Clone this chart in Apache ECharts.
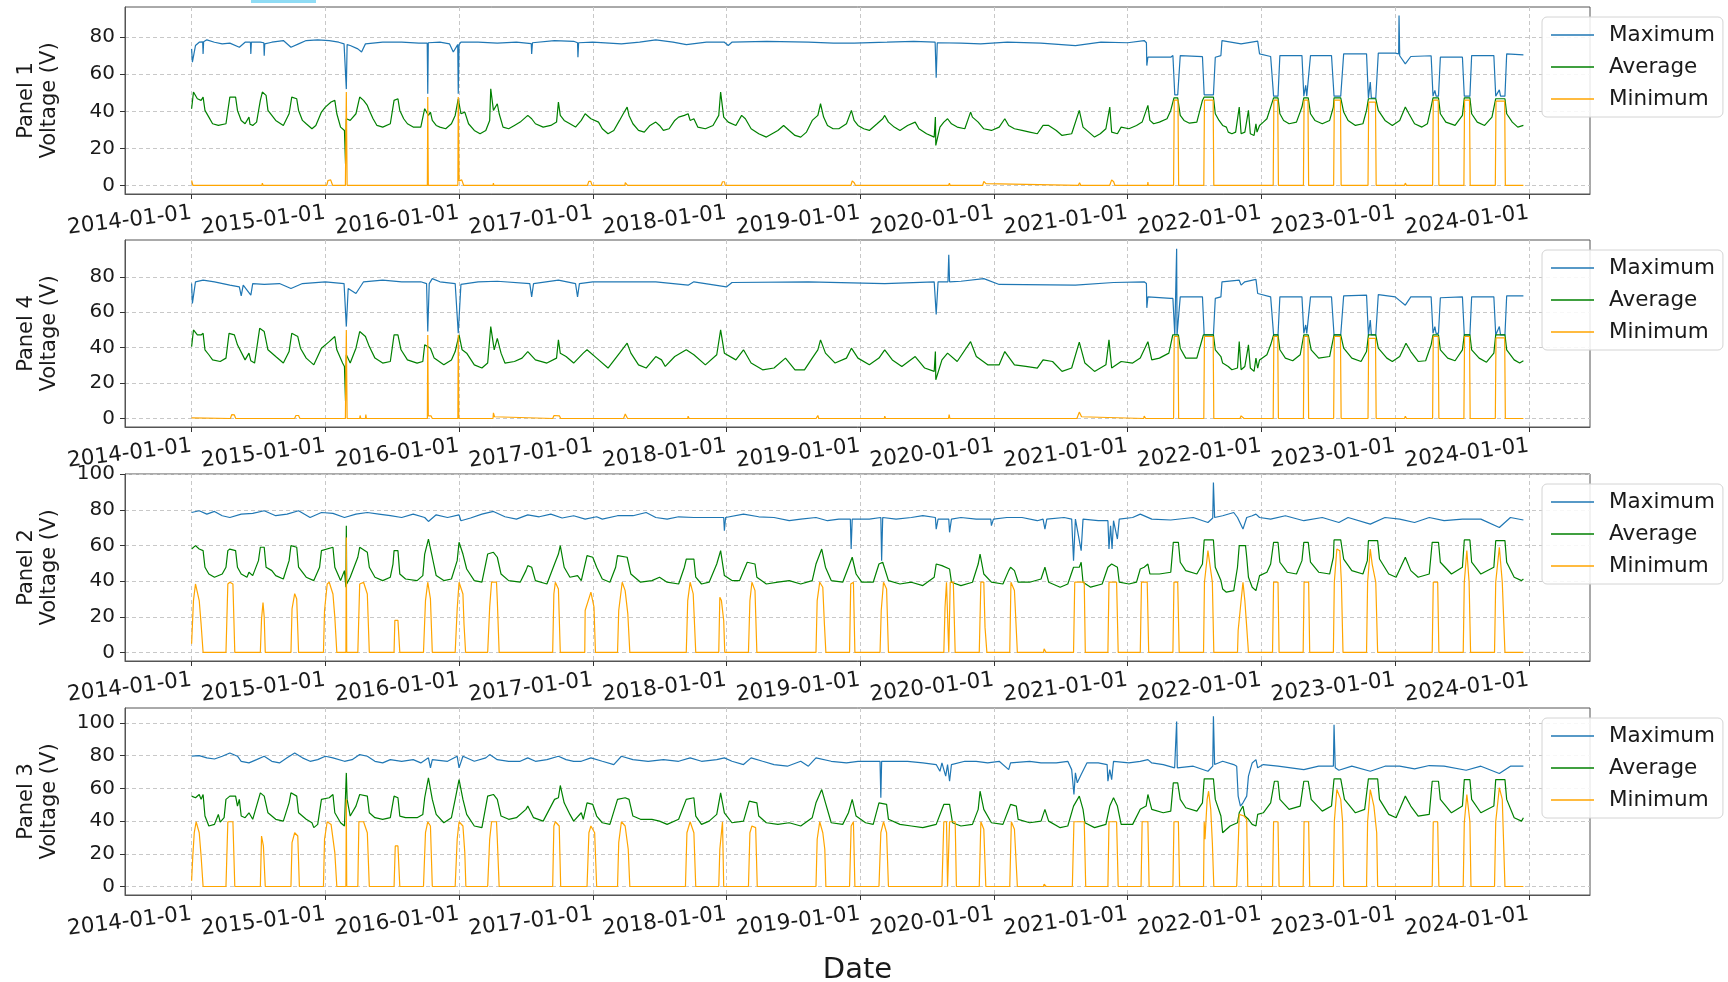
<!DOCTYPE html>
<html>
<head>
<meta charset="utf-8">
<script src="https://cdn.jsdelivr.net/npm/echarts@6/dist/echarts.min.js"></script>
<style>
  html, body { margin: 0; padding: 0; background: #fff; }
  #main { width: 1728px; height: 982px; }
</style>
</head>
<body>
<div id="main"></div>
<script>
// x values are decimal years (2014.5 = middle of 2014)
var yearTicks = [2014, 2015, 2016, 2017, 2018, 2019, 2020, 2021, 2022, 2023, 2024];
var seriesNames = ['Maximum', 'Average', 'Minimum'];
var panelNames = ['Panel 1', 'Panel 4', 'Panel 2', 'Panel 3'];
var yTicks = [[0, 20, 40, 60, 80], [0, 20, 40, 60, 80], [0, 20, 40, 60, 80, 100], [0, 20, 40, 60, 80, 100]];
var yRanges = [[-4.6, 96.3], [-4.8, 100.8], [-4.8, 100.1], [-5.2, 109.2]];

// ---- Panel 1 ----
var panel1Max = [[2014.000,73.7],[2014.006,66.5],[2014.029,75.5],[2014.057,77.3],[2014.083,77.5],[2014.086,71],[2014.090,77.6],[2014.114,78.6],[2014.171,77.3],[2014.229,76.4],[2014.286,76.8],[2014.357,74.6],[2014.400,77.3],[2014.440,77.3],[2014.443,71],[2014.447,77.3],[2014.514,77.3],[2014.540,77],[2014.543,70],[2014.547,76.4],[2014.600,77.3],[2014.686,78.2],[2014.743,74.6],[2014.800,76.4],[2014.857,78.2],[2014.943,78.6],[2015.029,78.2],[2015.100,77.3],[2015.140,76.4],[2015.157,52],[2015.163,76],[2015.186,75.5],[2015.243,73.7],[2015.271,72],[2015.300,76.4],[2015.429,77.3],[2015.571,77.3],[2015.700,76.8],[2015.762,76.8],[2015.766,49.5],[2015.770,77],[2015.857,77.3],[2015.929,76.4],[2015.957,72],[2015.990,76],[2015.994,49.5],[2016.000,76],[2016.014,77.3],[2016.143,77.3],[2016.286,76.8],[2016.429,77.3],[2016.540,76.5],[2016.543,71],[2016.549,77],[2016.714,78.2],[2016.857,77.8],[2016.886,77],[2016.889,69.2],[2016.894,77],[2017.000,77.3],
  [2017.214,76.4],[2017.350,77.3],[2017.471,78.6],[2017.600,77.3],[2017.700,76],[2017.850,77.3],[2017.984,77.3],[2018.013,75.5],[2018.040,77.3],[2018.300,77.8],[2018.612,77.3],[2018.800,76.8],[2018.954,76.8],[2019.200,77.3],[2019.400,77.8],[2019.560,77.3],[2019.568,58.1],[2019.576,77],[2019.753,76.8],[2019.900,76.4],[2020.100,77.3],[2020.350,76.8],[2020.609,75.5],[2020.800,77.3],[2021.000,77],[2021.123,78.2],[2021.140,77],[2021.143,64.7],[2021.151,69.2],[2021.322,69.2],
  [2021.338,70.1],[2021.352,48.9],[2021.374,48.9],[2021.393,70.1],[2021.559,69.5],[2021.572,48.9],[2021.641,48.9],[2021.655,69.2],[2021.697,70.1],[2021.705,78.2],[2021.848,76.4],[2021.972,77.9],[2021.986,71],[2022.069,69.6],[2022.091,48.2],[2022.124,48.2],[2022.138,70.1],[2022.303,70.1],[2022.317,48.2],[2022.331,54],[2022.339,48.2],[2022.350,48.2],[2022.367,70.1],[2022.524,70.1],[2022.543,48.2],[2022.593,48.2],[2022.615,71],[2022.786,71],[2022.800,47.1],[2022.814,55.8],[2022.822,47.1],[2022.855,47.1],[2022.874,71.4],[2023.000,71.4],[2023.026,71],[2023.029,91.7],[2023.034,70],[2023.076,65.6],[2023.117,69.6],[2023.269,70],[2023.283,48.2],[2023.297,51.3],[2023.306,48.2],[2023.324,48.2],[2023.338,69.2],[2023.503,69.2],[2023.517,48.2],[2023.559,48.2],[2023.572,70.1],[2023.738,70.1],[2023.752,48.2],[2023.779,51.6],[2023.788,48.2],[2023.821,48.2],[2023.834,71],[2023.959,70.5]];
var panel1Avg = [[2014.000,41.4],[2014.014,50.4],[2014.043,46.8],[2014.071,45.9],[2014.086,47.7],[2014.100,40.5],[2014.129,36.9],[2014.157,33.3],[2014.200,32.4],[2014.257,33.3],[2014.286,47.7],[2014.329,47.7],[2014.343,40.5],[2014.371,35.1],[2014.400,33.3],[2014.429,36.9],[2014.437,33],[2014.457,32.4],[2014.486,34.2],[2014.514,45.9],[2014.529,50.4],[2014.557,48.6],[2014.571,40.5],[2014.600,37.8],[2014.629,35.1],[2014.686,32.4],[2014.729,38.7],[2014.749,47.7],[2014.786,46.8],[2014.800,40.5],[2014.829,35.1],[2014.857,33.3],[2014.900,30.6],[2014.929,32.4],[2014.971,39.6],[2015.000,42.3],[2015.043,45],[2015.071,45.9],[2015.086,38.7],[2015.114,31.5],[2015.143,29.7],[2015.151,11.7],[2015.157,36],[2015.186,35.1],[2015.229,38.7],[2015.257,47.7],[2015.286,45.9],[2015.314,43.2],[2015.329,40.5],[2015.357,36],[2015.386,32.4],[2015.429,31.5],[2015.486,33.3],[2015.514,45.9],[2015.543,46.8],[2015.557,40.5],[2015.586,36],[2015.614,33.3],[2015.657,31.5],[2015.714,31.5],[2015.743,41.4],[2015.771,37.8],[2015.786,39.6],[2015.800,35.1],[2015.829,32.4],[2015.857,31.5],[2015.900,30.6],[2015.943,33.3],[2015.971,37.8],[2015.994,46.8],[2016.014,38.7],[2016.043,39.6],[2016.071,33.3],[2016.114,29.7],[2016.157,27.9],[2016.200,29.7],[2016.229,35.1],[2016.237,52.2],[2016.257,40.5],[2016.286,44.1],[2016.300,38.7],[2016.329,31.5],[2016.371,30.6],[2016.414,32.4],[2016.457,34.2],[2016.514,37.8],[2016.543,36],[2016.571,33.3],[2016.629,31.5],[2016.686,32.4],[2016.729,34.2],[2016.743,45],[2016.757,37.8],[2016.786,35.1],[2016.829,33.3],[2016.871,31.5],[2016.914,35.1],[2016.943,38.7],[2016.986,36],
  [2017.043,34.2],[2017.071,30.6],[2017.114,27.9],[2017.157,29.7],[2017.200,35.1],[2017.228,38.7],[2017.257,42.3],[2017.271,37.8],[2017.300,33.3],[2017.342,29.7],[2017.385,28.8],[2017.428,32.4],[2017.471,34.2],[2017.499,32.4],[2017.528,29.7],[2017.571,30.6],[2017.613,35.1],[2017.642,36.9],[2017.685,37.8],[2017.713,38.7],[2017.728,35.1],[2017.756,36],[2017.785,31.5],[2017.842,30.6],[2017.899,32.4],[2017.942,37.8],[2017.956,50.4],[2017.979,36.9],[2018.013,34.2],[2018.070,32.4],[2018.113,37.8],[2018.141,36],[2018.184,30.6],[2018.241,27.9],[2018.298,26.1],[2018.341,27.9],[2018.384,29.7],[2018.427,32.4],[2018.469,29.7],[2018.512,27],[2018.555,26.1],[2018.598,28.8],[2018.641,35.1],[2018.683,37.8],[2018.703,44.1],[2018.726,36.9],[2018.755,32.4],[2018.797,30.6],[2018.840,30.6],[2018.897,33.3],[2018.934,40.5],[2018.954,35.1],[2018.983,32.4],[2019.026,30.6],[2019.068,29.7],[2019.126,33.3],[2019.168,36],[2019.183,37.8],[2019.211,34.2],[2019.254,31.5],[2019.297,29.7],[2019.354,32.4],[2019.411,34.2],[2019.439,30.6],[2019.496,27.9],[2019.553,26.1],[2019.562,36.9],[2019.565,21.6],[2019.596,31.5],[2019.625,34.2],[2019.653,36],[2019.682,33.3],[2019.725,31.5],[2019.782,30.6],[2019.825,39.6],[2019.839,36.9],[2019.882,34.2],[2019.924,30.6],[2019.981,29.7],[2020.039,31.5],[2020.081,36],[2020.110,32.4],[2020.153,30.6],[2020.210,29.7],[2020.267,28.8],[2020.324,27.9],[2020.367,32.4],[2020.409,32.4],[2020.466,29.7],[2020.509,27],[2020.581,27.9],[2020.638,40.5],[2020.666,31.5],[2020.709,28.8],[2020.752,26.1],[2020.795,27.9],[2020.837,30.6],[2020.866,42.3],[2020.880,28.8],[2020.923,27.9],[2020.951,31.5],[2021.009,30.6],[2021.066,32.4],[2021.108,34.2],[2021.151,43.2],[2021.166,35.1],[2021.194,33.3],[2021.237,34.2],[2021.294,36],[2021.322,40.5],
  [2021.346,47.3],[2021.374,47.3],[2021.393,37.8],[2021.421,35.1],[2021.462,33.6],[2021.517,34.2],[2021.559,45.9],[2021.572,47.7],[2021.641,47.7],[2021.655,38.7],[2021.683,35.1],[2021.710,32.4],[2021.738,31.5],[2021.752,28.8],[2021.779,27.9],[2021.807,28.8],[2021.834,42.3],[2021.848,27.9],[2021.876,28.8],[2021.903,40.5],[2021.917,27.9],[2021.945,27],[2021.959,33.3],[2021.967,28.8],[2021.986,32.4],[2022.014,34.2],[2022.041,36],[2022.069,42.3],[2022.091,47.3],[2022.124,47.3],[2022.138,38.7],[2022.166,35.1],[2022.207,33.3],[2022.262,34.2],[2022.303,42.3],[2022.317,47.3],[2022.350,47.3],[2022.367,38.7],[2022.400,35.1],[2022.455,33.3],[2022.510,35.1],[2022.538,42.3],[2022.543,47.3],[2022.593,47.3],[2022.615,39.6],[2022.648,35.1],[2022.703,32.4],[2022.759,33.3],[2022.786,40.5],[2022.800,46.8],[2022.855,46.8],[2022.874,40.5],[2022.924,35.1],[2022.979,32.4],[2023.034,35.1],[2023.076,42.3],[2023.103,38.7],[2023.145,33.3],[2023.200,31.5],[2023.241,33.3],[2023.269,42.3],[2023.283,47.3],[2023.324,47.3],[2023.338,38.7],[2023.379,34.2],[2023.448,32.4],[2023.503,37.8],[2023.517,47.3],[2023.559,47.3],[2023.572,38.7],[2023.614,34.2],[2023.669,32.4],[2023.724,36.9],[2023.752,46.8],[2023.821,46.8],[2023.834,38.7],[2023.876,34.2],[2023.917,31.5],[2023.959,32.4]];
var panel1Min = [[2014.000,2.7],[2014.010,0],[2014.526,0],[2014.529,1.3],[2014.535,0],[2015.010,0],[2015.020,2.7],[2015.040,3],[2015.055,0],[2015.150,0],[2015.157,50.4],[2015.163,0],[2015.763,0],[2015.766,47.7],[2015.770,0],[2015.991,0],[2015.994,47.7],[2016.000,2.5],[2016.020,3],[2016.035,0],[2016.254,0],[2016.257,1.3],[2016.260,0],[2016.960,0],[2016.970,2.2],[2016.985,2.2],[2016.995,0],
  [2017.240,0],[2017.243,1.5],[2017.255,1.2],[2017.260,0],[2017.960,0],[2017.970,2],[2017.985,2],[2017.990,0],[2018.930,0],[2018.940,2.5],[2018.955,1.5],[2018.965,0],[2019.660,0],[2019.667,1.2],[2019.672,0],[2019.915,0],[2019.924,2.2],[2019.940,1],[2019.950,0],[2020.630,0],[2020.640,1.5],[2020.650,0],[2020.865,0],[2020.880,3],[2020.895,2],[2020.905,0],[2021.148,0],[2021.151,1.8],[2021.154,0],
  [2021.343,0],[2021.348,46],[2021.376,46],[2021.381,0],[2021.569,0],[2021.574,46],[2021.639,46],[2021.644,0],[2022.088,0],[2022.093,46],[2022.122,46],[2022.127,0],[2022.314,0],[2022.319,46],[2022.348,46],[2022.353,0],[2022.540,0],[2022.545,46],[2022.591,46],[2022.596,0],[2022.797,0],[2022.802,45],[2022.853,45],[2022.858,0],[2023.070,0],[2023.076,1.3],[2023.085,0],[2023.280,0],[2023.285,46],[2023.322,46],[2023.327,0],[2023.514,0],[2023.519,46],[2023.556,46],[2023.561,0],[2023.749,0],[2023.754,45.5],[2023.819,45.5],[2023.824,0],[2023.959,0]];

// ---- Panel 4 ----
var panel4Max = [[2014.000,76.2],[2014.006,65],[2014.029,77.2],[2014.086,78.1],[2014.171,77.2],[2014.286,75.3],[2014.357,74.3],[2014.371,69.3],[2014.386,75.3],[2014.443,69.7],[2014.457,76.2],[2014.543,75.7],[2014.657,76.2],[2014.743,73.4],[2014.829,76.2],[2015.000,77.2],[2015.140,76.2],[2015.157,51.9],[2015.171,73.4],[2015.229,70.6],[2015.286,77.2],[2015.429,78.1],[2015.571,77.2],[2015.714,77.2],[2015.757,76.2],[2015.766,49.1],[2015.777,76.2],[2015.800,79],[2015.857,77.2],[2015.971,76.2],[2015.994,48.1],[2016.014,75.7],[2016.143,77.2],[2016.286,77.5],[2016.529,76.2],[2016.543,68.7],[2016.557,76.2],[2016.743,78.1],[2016.871,76.2],[2016.886,68.7],[2016.900,76.2],[2017.000,77.2],
  [2017.214,77.2],[2017.471,77.2],[2017.713,75.3],[2017.756,77.2],[2017.999,74.3],[2018.041,76.8],[2018.612,77.2],[2019.183,76.2],[2019.553,77.2],[2019.568,58.8],[2019.582,77.2],[2019.656,77.2],[2019.662,92.5],[2019.668,77.2],[2019.753,77.5],[2019.924,79],[2020.039,75.7],[2020.609,75.3],[2020.894,76.8],[2021.123,77.2],[2021.140,76.2],[2021.143,62.5],[2021.151,68.7],[2021.322,67.8],
  [2021.338,67.8],[2021.352,47.2],[2021.363,47.2],[2021.366,95.9],[2021.369,47.2],[2021.379,47.2],[2021.393,68.7],[2021.559,68.7],[2021.572,47.2],[2021.641,47.2],[2021.655,67.8],[2021.697,68.7],[2021.705,77.2],[2021.834,78.1],[2021.848,75.3],[2021.876,77.2],[2021.959,78.6],[2021.972,70.6],[2021.986,69.7],[2022.069,68.7],[2022.091,47.2],[2022.124,47.2],[2022.138,68.7],[2022.303,68.7],[2022.317,48.1],[2022.331,52.8],[2022.339,48.1],[2022.350,48.1],[2022.367,68.7],[2022.524,68.7],[2022.543,47.2],[2022.593,47.2],[2022.615,69.3],[2022.786,69.7],[2022.800,47.2],[2022.814,55.6],[2022.822,47.2],[2022.855,47.2],[2022.874,70],[2023.000,68.7],[2023.076,64],[2023.117,68.7],[2023.269,68.7],[2023.283,48.1],[2023.297,51.9],[2023.306,48.1],[2023.324,48.1],[2023.338,68.2],[2023.503,68.7],[2023.517,47.2],[2023.559,47.2],[2023.572,68.7],[2023.738,68.7],[2023.752,47.2],[2023.779,51.9],[2023.788,47.2],[2023.821,47.2],[2023.834,69.3],[2023.959,69.3]];
var panel4Avg = [[2014.000,40.6],[2014.014,50],[2014.043,47.2],[2014.071,47.2],[2014.086,48.1],[2014.100,38.8],[2014.129,36],[2014.157,33.1],[2014.214,32.2],[2014.257,34.1],[2014.280,48.1],[2014.320,47.2],[2014.343,41.6],[2014.400,33.1],[2014.429,36.9],[2014.443,32.6],[2014.471,31.3],[2014.509,50.9],[2014.543,49.1],[2014.571,38.8],[2014.629,35],[2014.686,31.3],[2014.729,37.8],[2014.749,48.1],[2014.794,46.3],[2014.814,39.7],[2014.857,34.1],[2014.914,30.3],[2014.971,39.7],[2015.029,43.4],[2015.071,46.3],[2015.086,38.8],[2015.129,31.3],[2015.143,29.4],[2015.151,9.7],[2015.157,36],[2015.186,31.3],[2015.229,39.7],[2015.257,49.1],[2015.300,46.3],[2015.329,40.6],[2015.371,34.1],[2015.429,31.3],[2015.486,32.2],[2015.514,47.2],[2015.543,47.2],[2015.566,38.8],[2015.614,33.1],[2015.686,31.3],[2015.729,32.2],[2015.743,41.6],[2015.786,39.7],[2015.814,34.1],[2015.886,30.3],[2015.943,33.1],[2015.971,37.8],[2016.000,47.2],[2016.023,38.8],[2016.057,36.9],[2016.114,30.3],[2016.171,28.5],[2016.214,31.3],[2016.237,51.9],[2016.263,38.8],[2016.286,45.3],[2016.314,36.9],[2016.343,31.3],[2016.414,32.2],[2016.471,34.1],[2016.514,37.8],[2016.571,33.1],[2016.657,31.3],[2016.729,34.1],[2016.743,44.4],[2016.757,36.9],[2016.800,35],[2016.857,31.3],[2016.929,36.9],[2016.957,38.8],[2017.029,34.1],
  [2017.114,28.5],[2017.200,36.9],[2017.257,42.5],[2017.285,36.9],[2017.342,30.3],[2017.399,28.5],[2017.471,35],[2017.514,33.1],[2017.542,29.4],[2017.613,35],[2017.699,38.8],[2017.713,39.7],[2017.756,36],[2017.842,30.3],[2017.927,36],[2017.956,50],[2017.984,36.9],[2018.070,33.1],[2018.127,38.8],[2018.184,31.3],[2018.270,27.5],[2018.355,28.5],[2018.441,34.1],[2018.512,27.5],[2018.583,27.5],[2018.641,34.1],[2018.683,38.8],[2018.703,44.4],[2018.740,36.9],[2018.812,31.3],[2018.897,34.1],[2018.934,39.7],[2018.983,34.1],[2019.068,30.3],[2019.140,34.1],[2019.183,38.8],[2019.240,33.1],[2019.311,29.4],[2019.411,35],[2019.482,28.5],[2019.553,26.6],[2019.562,37.8],[2019.565,21.9],[2019.611,33.1],[2019.653,36.9],[2019.725,32.2],[2019.825,43.4],[2019.868,35],[2019.953,30.3],[2020.039,30.3],[2020.081,37.8],[2020.153,30.3],[2020.238,29.4],[2020.324,28.5],[2020.367,33.1],[2020.438,32.2],[2020.509,26.6],[2020.581,28.5],[2020.638,43.1],[2020.680,31.3],[2020.752,26.6],[2020.837,30.3],[2020.860,44.4],[2020.880,28.5],[2020.951,32.2],[2021.037,31.3],[2021.094,34.1],[2021.151,43.4],[2021.180,33.1],[2021.237,34.1],[2021.308,36.9],[2021.337,47.2],
  [2021.379,47.2],[2021.393,39.7],[2021.434,34.1],[2021.517,34.1],[2021.559,45.3],[2021.566,47.2],[2021.641,47.2],[2021.655,38.8],[2021.697,35],[2021.710,31.3],[2021.752,29.4],[2021.779,27.5],[2021.821,28.5],[2021.834,43.4],[2021.848,27.5],[2021.876,29.4],[2021.903,41.6],[2021.917,28.5],[2021.945,26.6],[2021.959,34.1],[2021.972,28.5],[2021.986,33.1],[2022.041,36],[2022.069,41.6],[2022.091,47.2],[2022.124,47.2],[2022.138,38.8],[2022.179,34.1],[2022.234,32.6],[2022.290,36],[2022.317,47.2],[2022.350,47.2],[2022.372,38.8],[2022.428,34.1],[2022.510,35],[2022.543,47.2],[2022.593,47.2],[2022.615,39.7],[2022.676,34.1],[2022.745,32.2],[2022.786,37.8],[2022.800,47.2],[2022.855,47.2],[2022.874,39.7],[2022.938,34.1],[2022.979,32.2],[2023.034,35],[2023.081,42.5],[2023.117,37.8],[2023.172,32.2],[2023.228,32.6],[2023.269,41.6],[2023.283,47.2],[2023.324,47.2],[2023.338,38.8],[2023.393,34.1],[2023.448,32.6],[2023.503,38.8],[2023.517,47.2],[2023.559,47.2],[2023.572,38.8],[2023.628,34.1],[2023.683,31.8],[2023.738,36.9],[2023.752,47.2],[2023.821,47.2],[2023.834,38.8],[2023.890,33.1],[2023.931,31.3],[2023.959,32.6]];
var panel4Min = [[2014.000,0.4],[2014.290,0],[2014.300,2.2],[2014.320,2],[2014.330,0],[2014.770,0],[2014.780,1.7],[2014.800,1.7],[2014.810,0],[2015.150,0],[2015.157,50],[2015.163,0],[2015.257,0],[2015.260,1.7],[2015.265,0],[2015.300,0],[2015.303,2.2],[2015.307,0],[2015.763,0],[2015.766,47.2],[2015.770,1.5],[2015.790,1.5],[2015.800,0],[2015.991,0],[2015.994,47.2],[2015.998,0],[2016.254,0],[2016.257,3.2],[2016.265,1],[2016.270,0],[2016.700,0],[2016.710,1.7],[2016.750,1.5],[2016.760,0],
  [2017.230,0],[2017.243,2.6],[2017.260,0],[2017.710,0],[2017.713,1.3],[2017.720,0],[2018.670,0],[2018.683,1.7],[2018.690,0],[2019.180,0],[2019.183,1.3],[2019.190,0],[2019.660,0],[2019.665,2.2],[2019.670,0],[2020.145,0],[2020.153,1],[2020.160,0],[2020.620,0],[2020.638,3.6],[2020.655,1],[2020.660,0],[2021.120,0],[2021.123,1.3],[2021.130,1.3],[2021.135,0],
  [2021.343,0],[2021.348,46.3],[2021.376,46.3],[2021.381,0],[2021.569,0],[2021.574,46.3],[2021.639,46.3],[2021.644,0],[2021.840,0],[2021.848,1.5],[2021.860,1.2],[2021.870,0],[2022.088,0],[2022.093,46.3],[2022.122,46.3],[2022.127,0],[2022.314,0],[2022.319,46.3],[2022.348,46.3],[2022.353,0],[2022.540,0],[2022.545,46.3],[2022.591,46.3],[2022.596,0],[2022.797,0],[2022.802,45.3],[2022.853,45.3],[2022.858,0],[2023.070,0],[2023.076,1.3],[2023.085,0],[2023.280,0],[2023.285,46.3],[2023.322,46.3],[2023.327,0],[2023.514,0],[2023.519,46.3],[2023.556,46.3],[2023.561,0],[2023.749,0],[2023.754,45.5],[2023.819,45.5],[2023.824,0],[2023.959,0]];

// ---- Panel 2 ----
var panel2Max = [[2014.000,78.5],[2014.057,79.5],[2014.114,77.6],[2014.171,79.1],[2014.229,76.7],[2014.286,75.7],[2014.371,77.6],[2014.457,78],[2014.543,79.5],[2014.629,76.7],[2014.714,77.6],[2014.800,79.5],[2014.886,75.7],[2014.971,78.5],[2015.057,78],[2015.143,75.7],[2015.229,77.6],[2015.314,78.5],[2015.400,77.6],[2015.486,76.7],[2015.571,75.7],[2015.657,77.6],[2015.743,75.7],[2015.771,73.5],[2015.829,77.2],[2015.914,75.7],[2016.000,77.2],[2016.014,73.9],[2016.086,75.4],[2016.171,77.6],[2016.257,79.1],[2016.343,76.1],[2016.429,74.8],[2016.514,77.2],[2016.600,76.1],[2016.686,77.6],[2016.771,75.4],[2016.857,76.7],[2016.943,74.8],[2017.029,76.1],
  [2017.071,74.8],[2017.185,76.7],[2017.300,76.7],[2017.399,78.5],[2017.471,75.7],[2017.556,74.8],[2017.642,76.1],[2017.756,75.7],[2017.870,75.7],[2017.979,75.7],[2017.984,68.3],[2017.993,75.7],[2018.127,77.6],[2018.241,76.1],[2018.355,75.7],[2018.469,73.9],[2018.555,74.8],[2018.669,75.7],[2018.755,73.9],[2018.840,74.8],[2018.926,74.8],[2018.932,58],[2018.940,74.8],[2019.068,74.8],[2019.154,75.7],[2019.160,51.5],[2019.168,75.7],[2019.268,74.8],[2019.382,75.7],[2019.468,76.7],[2019.562,75.7],[2019.568,69.2],[2019.582,74.8],[2019.662,74.8],[2019.668,67.4],[2019.682,74.8],[2019.753,75.7],[2019.867,74.8],[2019.976,74.8],[2019.981,71.1],[2019.996,74.8],[2020.096,75.7],[2020.210,75.7],[2020.324,73.9],[2020.367,74.8],[2020.381,69.2],[2020.395,74.8],[2020.524,75.7],[2020.581,74.8],[2020.595,51.5],[2020.609,74.8],[2020.652,57.1],[2020.666,74.8],[2020.780,73.9],[2020.852,73.9],[2020.860,58],[2020.872,71.1],[2020.883,58],[2020.894,73.9],[2020.923,63.6],[2020.937,74.8],[2021.037,75.7],[2021.094,77.6],[2021.180,74.8],[2021.322,74.3],
  [2021.490,75.7],[2021.600,72.9],[2021.636,75.4],[2021.641,95.3],[2021.650,75.7],[2021.710,76.7],[2021.793,78.5],[2021.821,75.7],[2021.862,69.2],[2021.890,75.7],[2021.931,76.7],[2021.959,77.6],[2021.986,75.7],[2022.069,74.8],[2022.179,76.7],[2022.317,73.9],[2022.455,75.7],[2022.579,72.9],[2022.648,75.7],[2022.814,72],[2022.924,75.7],[2023.034,74.8],[2023.145,72.9],[2023.255,75.7],[2023.366,73.9],[2023.503,74.8],[2023.641,74.8],[2023.779,70.1],[2023.862,75.7],[2023.959,74.3]];
var panel2Avg = [[2014.000,58],[2014.029,59.9],[2014.057,58],[2014.086,57.1],[2014.100,47.8],[2014.129,44],[2014.171,42.2],[2014.229,44],[2014.257,47.8],[2014.271,57.1],[2014.286,58],[2014.329,57.1],[2014.343,47.8],[2014.371,44],[2014.414,42.2],[2014.429,45],[2014.457,43.1],[2014.500,51.5],[2014.514,59],[2014.543,59],[2014.557,47.8],[2014.600,45.9],[2014.629,43.1],[2014.686,41.2],[2014.729,51.5],[2014.743,59.9],[2014.786,59],[2014.800,47.8],[2014.857,42.2],[2014.914,40.3],[2014.957,47.8],[2014.971,57.1],[2015.057,59],[2015.071,47.8],[2015.114,40.3],[2015.143,45.9],[2015.154,36.6],[2015.157,71.1],[2015.160,38.4],[2015.186,42.2],[2015.243,53.4],[2015.257,59],[2015.314,56.2],[2015.329,47.8],[2015.371,42.2],[2015.429,40.3],[2015.486,42.2],[2015.506,49.6],[2015.514,57.1],[2015.543,57.1],[2015.557,44],[2015.600,41.2],[2015.686,40.3],[2015.729,43.1],[2015.743,55.2],[2015.771,63.6],[2015.800,53.4],[2015.829,43.1],[2015.886,40.3],[2015.943,41.2],[2015.986,51.5],[2016.000,61.8],[2016.029,55.2],[2016.057,46.8],[2016.114,40.3],[2016.171,39.4],[2016.214,55.2],[2016.257,56.2],[2016.286,53.4],[2016.314,44],[2016.371,40.3],[2016.457,39.4],[2016.500,45.9],[2016.514,48.7],[2016.543,47.8],[2016.571,40.3],[2016.657,38.4],[2016.714,49.6],[2016.743,55.2],[2016.757,59.9],[2016.786,47.8],[2016.829,42.2],[2016.886,43.1],[2016.914,40.3],[2016.957,54.3],[2017.000,53.4],
  [2017.029,47.8],[2017.071,41.2],[2017.128,39.4],[2017.171,47.8],[2017.185,54.3],[2017.257,53.4],[2017.285,44],[2017.357,39.4],[2017.442,40.3],[2017.499,42.2],[2017.556,39.4],[2017.642,38.4],[2017.685,47.8],[2017.699,52.4],[2017.756,52.4],[2017.770,42.2],[2017.813,38.4],[2017.870,39.4],[2017.927,49.6],[2017.956,57.1],[2017.984,43.1],[2018.041,40.3],[2018.098,40.3],[2018.155,50.6],[2018.213,49.6],[2018.227,42.2],[2018.298,38.4],[2018.384,39.4],[2018.469,40.3],[2018.555,38.4],[2018.641,40.3],[2018.669,49.6],[2018.712,58],[2018.740,47.8],[2018.783,40.3],[2018.869,39.4],[2018.912,47.8],[2018.940,53.4],[2018.969,44],[2019.011,39.4],[2019.097,39.4],[2019.140,49.6],[2019.168,50.6],[2019.211,40.3],[2019.297,38.4],[2019.382,39.4],[2019.468,37.5],[2019.553,42.2],[2019.568,49.6],[2019.611,48.7],[2019.668,46.8],[2019.682,39.4],[2019.753,37.5],[2019.839,39.4],[2019.882,49.6],[2019.896,55.2],[2019.924,44],[2019.981,39.4],[2020.067,38.4],[2020.110,45.9],[2020.124,47.8],[2020.153,45.9],[2020.181,39.4],[2020.267,39.4],[2020.352,41.2],[2020.381,47.8],[2020.409,39.4],[2020.495,36.6],[2020.552,38.4],[2020.595,47.8],[2020.638,47.8],[2020.652,50.6],[2020.666,39.4],[2020.723,36.6],[2020.809,38.4],[2020.852,47.8],[2020.880,49.6],[2020.923,47.8],[2020.937,39.4],[2021.009,38.4],[2021.066,39.4],[2021.094,46.8],[2021.123,47.8],[2021.151,49.6],[2021.166,44],[2021.237,44],[2021.322,45],
  [2021.341,61.8],[2021.379,61.8],[2021.393,50.6],[2021.434,45.9],[2021.517,44],[2021.559,49.6],[2021.572,63.1],[2021.641,63.1],[2021.655,47.8],[2021.697,40.3],[2021.710,35.6],[2021.738,33.8],[2021.793,34.7],[2021.821,47.8],[2021.834,59.9],[2021.881,59.9],[2021.890,53.4],[2021.903,42.2],[2021.931,36.6],[2021.959,34.7],[2021.986,43.1],[2022.041,45],[2022.069,49.6],[2022.091,61.8],[2022.124,61.8],[2022.138,50.6],[2022.193,45],[2022.262,44],[2022.303,51.5],[2022.317,61.8],[2022.350,61.8],[2022.367,50.6],[2022.428,45],[2022.510,44],[2022.538,53.4],[2022.543,63.1],[2022.593,63.1],[2022.615,52.4],[2022.676,45.9],[2022.759,44],[2022.792,51.5],[2022.800,62.7],[2022.869,62.7],[2022.883,52.4],[2022.952,44],[2023.007,42.2],[2023.076,53.4],[2023.117,45.9],[2023.172,42.2],[2023.255,44],[2023.277,61.8],[2023.324,61.8],[2023.338,50.6],[2023.421,44],[2023.503,47.8],[2023.517,63.1],[2023.559,63.1],[2023.572,50.6],[2023.641,44],[2023.738,47.8],[2023.752,62.7],[2023.821,62.7],[2023.834,50.6],[2023.890,42.2],[2023.945,40.3],[2023.959,41.2]];
var panel2Min = [[2014.000,4.9],[2014.014,29.1],[2014.029,38.4],[2014.043,37.5],[2014.057,29.1],[2014.071,16],[2014.086,0],[2014.257,0],[2014.271,38.4],[2014.286,39.4],[2014.309,38.4],[2014.323,0],[2014.514,0],[2014.523,18.8],[2014.534,28],[2014.543,19.8],[2014.551,0],[2014.743,0],[2014.751,24.4],[2014.771,33],[2014.786,30],[2014.800,0],[2014.986,0],[2014.994,23.5],[2015.014,38.4],[2015.029,39.4],[2015.057,32.8],[2015.071,19.8],[2015.086,0],[2015.154,0],[2015.157,64.5],[2015.160,0],[2015.243,0],[2015.257,38.4],[2015.286,39.4],[2015.314,32.8],[2015.329,0],[2015.514,0],[2015.520,18],[2015.543,18],[2015.557,0],[2015.734,0],[2015.749,29.1],[2015.766,39.4],[2015.786,30],[2015.800,0],[2015.971,0],[2015.986,24.4],[2016.000,39.4],[2016.029,32.8],[2016.037,16],[2016.049,0],[2016.214,0],[2016.229,25.4],[2016.243,39.4],[2016.280,39.4],[2016.286,29.1],[2016.300,0],[2016.511,0],[2016.514,0.7],[2016.520,0],[2016.700,0],[2016.709,32.8],[2016.720,39.4],[2016.743,35.6],[2016.757,0],[2016.940,0],[2016.943,23.5],[2016.986,33.8],[2017.009,25.4],[2017.020,0],
  [2017.185,0],[2017.194,23.5],[2017.220,39.4],[2017.242,34.7],[2017.262,21.6],[2017.277,0],[2017.699,0],[2017.710,29.1],[2017.728,39.4],[2017.751,32.8],[2017.770,0],[2017.942,0],[2017.950,31],[2017.962,29.1],[2017.979,17.9],[2017.987,0],[2018.164,0],[2018.175,29.1],[2018.190,39.4],[2018.213,34.7],[2018.227,0],[2018.669,0],[2018.678,29.1],[2018.697,39.4],[2018.720,36.6],[2018.732,16],[2018.743,0],[2018.920,0],[2018.929,38.4],[2018.949,39.4],[2018.960,0],[2019.148,0],[2019.157,23.5],[2019.174,39.4],[2019.197,35.6],[2019.211,0],[2019.625,0],[2019.634,25.4],[2019.645,39.4],[2019.662,0],[2019.673,39.4],[2019.696,39.4],[2019.710,0],[2019.890,0],[2019.902,39.4],[2019.924,39.4],[2019.933,14.2],[2019.947,0],[2020.118,0],[2020.127,39.4],[2020.153,34.7],[2020.175,0],[2020.370,0],[2020.375,2],[2020.385,2],[2020.390,0],[2020.595,0],[2020.604,39.4],[2020.675,39.4],[2020.683,0],[2020.852,0],[2020.860,39.4],[2020.917,39.4],[2020.929,0],[2021.094,0],[2021.103,39.4],[2021.146,39.4],[2021.157,0],
  [2021.338,0],[2021.346,39.4],[2021.374,39.4],[2021.385,0],[2021.567,0],[2021.574,39.4],[2021.600,57.1],[2021.614,56.2],[2021.633,39.4],[2021.644,0],[2021.821,0],[2021.826,12.3],[2021.848,29.1],[2021.862,39.4],[2021.876,29.1],[2021.890,14.2],[2021.903,0],[2022.083,0],[2022.091,39.4],[2022.124,39.4],[2022.132,0],[2022.312,0],[2022.319,39.4],[2022.353,39.4],[2022.361,0],[2022.538,0],[2022.545,39.4],[2022.564,58],[2022.586,57.1],[2022.598,39.4],[2022.610,0],[2022.786,0],[2022.794,39.4],[2022.814,58],[2022.828,49.6],[2022.855,39.4],[2022.869,0],[2023.277,0],[2023.285,39.4],[2023.318,39.4],[2023.327,0],[2023.509,0],[2023.517,39.4],[2023.536,57.1],[2023.553,39.4],[2023.564,0],[2023.743,0],[2023.752,39.4],[2023.779,59],[2023.801,39.4],[2023.821,0],[2023.959,0]];

// ---- Panel 3 ----
var panel3Max = [[2014.000,79.7],[2014.057,80.1],[2014.114,78.7],[2014.171,78],[2014.229,79.7],[2014.286,81.7],[2014.343,79.7],[2014.371,76.6],[2014.429,75.6],[2014.486,77.6],[2014.543,79.7],[2014.600,76.6],[2014.657,75.6],[2014.714,78.7],[2014.771,81.7],[2014.829,78.7],[2014.886,76.6],[2014.943,77.6],[2015.000,79.7],[2015.057,78.7],[2015.143,76.6],[2015.200,77.6],[2015.257,80.7],[2015.314,79.7],[2015.371,76.6],[2015.429,75.6],[2015.486,77.6],[2015.571,76.6],[2015.657,77.6],[2015.714,75.6],[2015.771,78.7],[2015.786,72.6],[2015.800,77.6],[2015.914,76.6],[2015.986,79.7],[2016.000,72.6],[2016.029,79.7],[2016.114,76.6],[2016.200,78.7],[2016.229,80.7],[2016.286,77.6],[2016.371,76.6],[2016.457,76.6],[2016.514,78.7],[2016.571,76.6],[2016.657,77.6],[2016.743,79.7],[2016.800,77.6],[2016.857,76.6],[2016.914,76.6],[2016.986,78.7],
  [2017.071,76.6],[2017.157,74.6],[2017.214,79.7],[2017.300,77.6],[2017.414,76.6],[2017.528,77.6],[2017.642,76.6],[2017.728,78.7],[2017.813,76.6],[2017.927,77.6],[2017.984,78.7],[2018.041,76.6],[2018.127,74.6],[2018.184,78.7],[2018.270,76.6],[2018.355,74.6],[2018.455,73.6],[2018.555,76.6],[2018.612,73.6],[2018.669,78.7],[2018.783,76.6],[2018.897,75.6],[2018.983,76.6],[2019.068,76.6],[2019.148,76.6],[2019.154,54.3],[2019.160,76.6],[2019.268,76.6],[2019.354,76.6],[2019.468,75.6],[2019.568,74.6],[2019.596,70.5],[2019.611,75.6],[2019.639,67.5],[2019.653,74.6],[2019.668,64.4],[2019.682,74.6],[2019.782,76.6],[2019.867,76.6],[2019.953,75.6],[2020.039,76.6],[2020.110,71.5],[2020.124,75.6],[2020.267,76.6],[2020.352,75.6],[2020.466,75.6],[2020.552,76.6],[2020.581,71.5],[2020.598,56.3],[2020.609,69.5],[2020.623,63.4],[2020.652,68.5],[2020.695,75.6],[2020.780,75.6],[2020.846,74.6],[2020.852,64.4],[2020.866,71.5],[2020.880,65.4],[2020.894,76.6],[2021.009,75.6],[2021.094,76.6],[2021.151,77.6],[2021.180,75.6],[2021.266,74.6],[2021.351,72.6],
  [2021.360,72.6],[2021.366,101],[2021.371,72.6],[2021.490,73.6],[2021.600,70.5],[2021.636,73.6],[2021.641,104.1],[2021.650,74.6],[2021.710,76.6],[2021.793,74.6],[2021.815,73.6],[2021.826,55.3],[2021.843,49.2],[2021.862,51.2],[2021.890,55.3],[2021.903,67.5],[2021.931,75.6],[2021.959,77.6],[2021.972,72.6],[2022.014,74.6],[2022.124,73.6],[2022.317,71.5],[2022.428,73.6],[2022.538,73.6],[2022.543,99],[2022.552,72.6],[2022.579,71.1],[2022.676,73.6],[2022.814,70.5],[2022.924,73.6],[2023.034,73.6],[2023.145,72],[2023.255,74],[2023.366,73.6],[2023.531,71.1],[2023.641,73.6],[2023.779,69.1],[2023.862,73.6],[2023.959,73.6]];
var panel3Avg = [[2014.000,55.3],[2014.014,56.3],[2014.029,54.3],[2014.057,56.3],[2014.071,53.3],[2014.086,56.3],[2014.100,43.1],[2014.129,37],[2014.171,38],[2014.200,44.1],[2014.214,39.4],[2014.243,42.1],[2014.257,53.3],[2014.286,55.3],[2014.329,55.3],[2014.343,49.2],[2014.357,53.3],[2014.371,43.1],[2014.400,42.1],[2014.429,45.1],[2014.457,41.1],[2014.500,53.3],[2014.514,57.3],[2014.543,55.3],[2014.571,45.1],[2014.629,41.1],[2014.686,40],[2014.729,51.2],[2014.743,57.3],[2014.786,55.3],[2014.800,45.1],[2014.857,41.1],[2014.900,39],[2014.914,36],[2014.943,38],[2014.971,53.3],[2015.029,54.3],[2015.057,56.3],[2015.071,45.1],[2015.114,39],[2015.143,37],[2015.154,37],[2015.157,69.5],[2015.163,53.3],[2015.186,43.1],[2015.229,49.2],[2015.257,56.3],[2015.314,55.3],[2015.329,45.1],[2015.371,42.1],[2015.429,41.1],[2015.486,42.1],[2015.514,55.3],[2015.543,54.3],[2015.557,43.1],[2015.600,42.1],[2015.686,42.1],[2015.729,44.1],[2015.743,54.3],[2015.771,66.5],[2015.800,53.3],[2015.829,44.1],[2015.886,39],[2015.943,42.1],[2015.971,53.3],[2016.000,65.4],[2016.029,53.3],[2016.057,44.1],[2016.114,37],[2016.171,36],[2016.214,55.3],[2016.257,56.3],[2016.286,53.3],[2016.314,43.1],[2016.371,41.1],[2016.429,42.1],[2016.500,47.2],[2016.514,49.2],[2016.557,42.1],[2016.629,40],[2016.714,53.3],[2016.743,54.3],[2016.757,61.8],[2016.786,51.2],[2016.829,44.1],[2016.857,40],[2016.914,45.1],[2016.929,41.1],[2016.957,51.2],[2017.000,50.2],
  [2017.029,43.1],[2017.071,39],[2017.128,38],[2017.185,53.3],[2017.242,54.3],[2017.271,53.3],[2017.300,43.1],[2017.357,41.1],[2017.442,41.1],[2017.499,40],[2017.556,38],[2017.642,41.1],[2017.699,53.3],[2017.756,54.3],[2017.770,43.1],[2017.813,38],[2017.870,40],[2017.927,44.1],[2017.956,57.3],[2017.984,45.1],[2018.041,39],[2018.127,40],[2018.170,52.2],[2018.227,51.2],[2018.241,43.1],[2018.298,39],[2018.384,38],[2018.469,39],[2018.555,37],[2018.641,42.1],[2018.669,51.2],[2018.712,59.3],[2018.740,51.2],[2018.783,39],[2018.869,38],[2018.912,45.1],[2018.940,53.3],[2018.969,43.1],[2019.040,39],[2019.097,38],[2019.140,51.2],[2019.197,50.2],[2019.211,41.1],[2019.297,38],[2019.382,37],[2019.468,36],[2019.568,38],[2019.625,50.2],[2019.668,50.2],[2019.690,39],[2019.753,37],[2019.839,38],[2019.882,47.2],[2019.896,58.3],[2019.924,47.2],[2019.981,39],[2020.067,38],[2020.124,50.2],[2020.167,49.2],[2020.181,41.1],[2020.267,39],[2020.352,40],[2020.381,47.2],[2020.409,40],[2020.495,36],[2020.552,37],[2020.595,49.2],[2020.638,55.3],[2020.666,47.2],[2020.680,39],[2020.752,36],[2020.837,38],[2020.866,49.2],[2020.894,54.3],[2020.923,49.2],[2020.951,38],[2021.037,38],[2021.094,47.2],[2021.138,49.2],[2021.151,56.3],[2021.180,47.2],[2021.266,45.1],[2021.322,46.1],
  [2021.341,63.4],[2021.374,63.4],[2021.393,53.3],[2021.434,48.2],[2021.517,46.1],[2021.559,51.2],[2021.572,65.9],[2021.641,65.9],[2021.655,53.3],[2021.697,43.1],[2021.710,32.9],[2021.766,37],[2021.821,39],[2021.834,45.1],[2021.848,44.1],[2021.862,49.2],[2021.876,43.1],[2021.903,41.1],[2021.931,38],[2021.959,37],[2021.972,44.1],[2022.014,45.1],[2022.069,51.2],[2022.097,64.4],[2022.124,64.4],[2022.138,53.3],[2022.207,47.2],[2022.290,49.2],[2022.317,64.4],[2022.350,64.4],[2022.372,53.3],[2022.455,46.1],[2022.524,49.2],[2022.543,65.9],[2022.593,65.9],[2022.621,53.3],[2022.703,45.1],[2022.772,47.2],[2022.800,65.9],[2022.869,65.9],[2022.883,53.3],[2022.952,44.1],[2023.007,42.1],[2023.076,55.3],[2023.117,49.2],[2023.172,43.1],[2023.255,44.1],[2023.277,64.4],[2023.324,64.4],[2023.338,53.3],[2023.421,45.1],[2023.503,49.2],[2023.517,65.4],[2023.559,65.4],[2023.572,53.3],[2023.641,45.1],[2023.738,49.2],[2023.752,65.4],[2023.821,65.4],[2023.834,53.3],[2023.890,42.1],[2023.945,40],[2023.959,42.1]];
var panel3Min = [[2014.000,3.5],[2014.009,18.7],[2014.020,32.9],[2014.034,39.6],[2014.057,32.9],[2014.071,18.7],[2014.086,0],[2014.257,0],[2014.271,39.6],[2014.309,39.6],[2014.323,0],[2014.514,0],[2014.523,30.9],[2014.537,24.8],[2014.551,0],[2014.743,0],[2014.751,26.8],[2014.771,32.9],[2014.794,30.9],[2014.806,0],[2014.986,0],[2014.994,28.9],[2015.014,39.6],[2015.043,38],[2015.071,20.7],[2015.086,0],[2015.154,0],[2015.157,53.3],[2015.160,0],[2015.243,0],[2015.251,39.6],[2015.286,39.6],[2015.314,32.9],[2015.329,0],[2015.514,0],[2015.523,24.8],[2015.543,24.8],[2015.557,0],[2015.734,0],[2015.749,32.9],[2015.766,39.6],[2015.786,37],[2015.800,0],[2015.971,0],[2015.986,28.9],[2016.000,39.6],[2016.029,37],[2016.043,20.7],[2016.051,0],[2016.214,0],[2016.229,28.9],[2016.243,39.6],[2016.280,39.6],[2016.286,28.9],[2016.300,0],[2016.700,0],[2016.709,37],[2016.720,39.6],[2016.749,37],[2016.760,0],[2016.957,0],[2016.971,32.9],[2016.986,37],[2017.014,32.9],[2017.029,0],
  [2017.185,0],[2017.194,26.8],[2017.214,39.6],[2017.242,37],[2017.265,22.8],[2017.277,0],[2017.693,0],[2017.704,32.9],[2017.728,39.6],[2017.756,32.9],[2017.770,0],[2017.942,0],[2017.950,22.8],[2017.970,39.6],[2017.979,0],[2018.164,0],[2018.175,32.9],[2018.190,37],[2018.218,36],[2018.230,0],[2018.669,0],[2018.678,28.9],[2018.697,39.6],[2018.720,32.9],[2018.735,22.8],[2018.743,0],[2018.920,0],[2018.932,37],[2018.949,39.6],[2018.960,0],[2019.140,0],[2019.154,32.9],[2019.174,39.6],[2019.197,32.9],[2019.211,0],[2019.611,0],[2019.625,39.6],[2019.645,39.6],[2019.653,0],[2019.668,39.6],[2019.710,39.6],[2019.719,0],[2019.890,0],[2019.902,39.6],[2019.924,35],[2019.939,0],[2020.118,0],[2020.130,39.6],[2020.153,35],[2020.175,0],[2020.370,0],[2020.375,1.4],[2020.385,1.4],[2020.390,0],[2020.586,0],[2020.598,39.6],[2020.675,39.6],[2020.686,0],[2020.852,0],[2020.860,39.6],[2020.917,39.6],[2020.929,0],[2021.100,0],[2021.108,39.6],[2021.151,39.6],[2021.160,0],
  [2021.338,0],[2021.346,39.6],[2021.379,39.6],[2021.388,0],[2021.567,0],[2021.572,39.6],[2021.578,28.9],[2021.594,53.3],[2021.605,58.3],[2021.621,47.2],[2021.633,26.8],[2021.644,0],[2021.815,0],[2021.826,24.8],[2021.834,44.1],[2021.848,45.1],[2021.870,43.1],[2021.890,41.1],[2021.898,0],[2022.083,0],[2022.091,39.6],[2022.124,39.6],[2022.132,0],[2022.312,0],[2022.319,39.6],[2022.353,39.6],[2022.361,0],[2022.538,0],[2022.545,39.6],[2022.564,59.3],[2022.593,53.3],[2022.607,39.6],[2022.615,0],[2022.786,0],[2022.794,39.6],[2022.814,59.3],[2022.841,49.2],[2022.862,32.9],[2022.869,0],[2023.277,0],[2023.285,39.6],[2023.318,39.6],[2023.327,0],[2023.509,0],[2023.517,39],[2023.536,56.3],[2023.559,39.6],[2023.567,0],[2023.743,0],[2023.752,39.6],[2023.779,60.4],[2023.801,53.3],[2023.821,0],[2023.959,0]];

var panelData = [
  [panel1Max, panel1Avg, panel1Min],
  [panel4Max, panel4Avg, panel4Min],
  [panel2Max, panel2Avg, panel2Min],
  [panel3Max, panel3Avg, panel3Min]
];
var colors = ['#1f77b4', '#008000', '#ffa500'];

var font = 'DejaVu Sans';
var gridTops = [7, 240, 474, 708];

var grids = [], xAxes = [], yAxes = [], legends = [], series = [];
for (var i = 0; i < 4; i++) {
  grids.push({
    left: 125, right: 138, top: gridTops[i], height: 187,
    show: true, borderColor: '#555', borderWidth: 1,
    outerBoundsMode: 'none'
  });
  xAxes.push({
    type: 'value', gridIndex: i,
    min: 2013.502, max: 2024.457,
    axisLine: { show: true, onZero: false, lineStyle: { color: '#555' } },
    axisTick: { show: true, length: 5, customValues: yearTicks, lineStyle: { color: '#333' } },
    axisLabel: {
      customValues: yearTicks, rotate: 7, margin: 19,
      fontFamily: font, fontSize: 21.5, color: '#1a1a1a',
      formatter: function (v) { return Math.round(v) + '-01-01'; }
    },
    splitLine: { show: true, lineStyle: { color: '#c8c8c8', type: [4, 3], width: 1 } },
    name: i === 3 ? 'Date' : '',
    nameLocation: 'middle', nameGap: 61,
    nameTextStyle: { fontFamily: font, fontSize: 29, color: '#1a1a1a' }
  });
  yAxes.push({
    type: 'value', gridIndex: i,
    min: yRanges[i][0], max: yRanges[i][1],
    axisLine: { show: true, onZero: false, lineStyle: { color: '#555' } },
    axisTick: { show: true, length: 5, customValues: yTicks[i], lineStyle: { color: '#333' } },
    axisLabel: { customValues: yTicks[i], margin: 10, fontFamily: font, fontSize: 20, color: '#1a1a1a' },
    splitLine: { show: true, lineStyle: { color: '#c8c8c8', type: [4, 3], width: 1 } },
    name: panelNames[i] + '\nVoltage (V)',
    nameLocation: 'middle', nameGap: 64,
    nameTextStyle: { fontFamily: font, fontSize: 21, lineHeight: 23, color: '#1a1a1a' }
  });
  legends.push({
    data: seriesNames,
    orient: 'vertical', left: 1542, top: gridTops[i] + 10,
    icon: 'rect', itemWidth: 43, itemHeight: 1.5, itemGap: 10,
    padding: [7, 8, 7, 9],
    backgroundColor: 'rgba(255,255,255,0.85)',
    borderColor: '#d4d4d4', borderWidth: 1, borderRadius: 5,
    textStyle: { fontFamily: font, fontSize: 21.5, lineHeight: 22, color: '#1a1a1a', padding: [0, 0, 0, 10] }
  });
  for (var k = 0; k < 3; k++) {
    series.push({
      name: seriesNames[k], type: 'line',
      xAxisIndex: i, yAxisIndex: i,
      data: panelData[i][k],
      symbol: 'none', showSymbol: false,
      lineStyle: { width: 1.2, color: colors[k] },
      itemStyle: { color: colors[k] },
      silent: true
    });
  }
}

var chart = echarts.init(document.getElementById('main'));
chart.setOption({
  animation: false,
  backgroundColor: '#fff',
  grid: grids,
  xAxis: xAxes,
  yAxis: yAxes,
  legend: legends,
  series: series,
  graphic: [{ type: 'rect', left: 251, top: 0, shape: { width: 65, height: 3 }, style: { fill: '#8fdcf5' } }]
});
</script>
</body>
</html>
